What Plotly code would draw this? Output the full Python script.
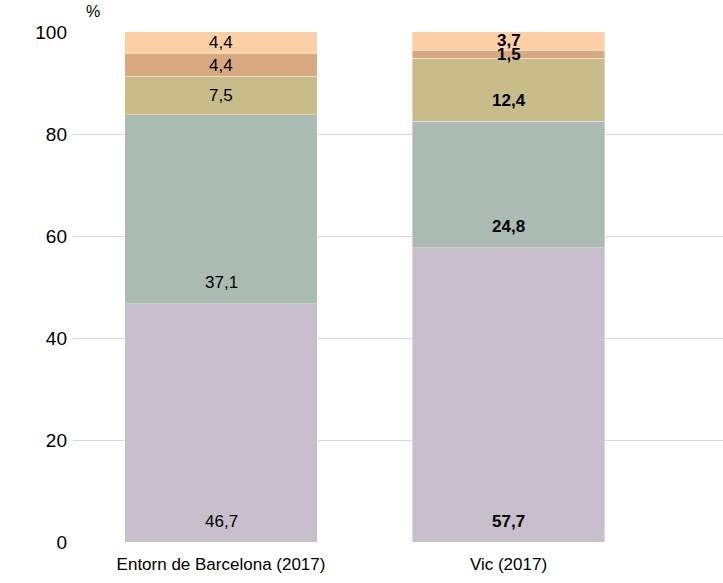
import plotly.graph_objects as go

categories = ["Entorn de Barcelona (2017)", "Vic (2017)"]
series_names = ["S1", "S2", "S3", "S4", "S5"]
series_values = [
    [46.7, 57.7],
    [37.1, 24.8],
    [7.5, 12.4],
    [4.4, 1.5],
    [4.4, 3.7],
]
colors = ["#C7BFCC", "#ABBAB3", "#C8BD8A", "#D8A981", "#FDCFA6"]
bold_cat = [False, True]
y_ticks = [0, 20, 40, 60, 80, 100]

x_pos = list(range(len(categories)))
FONT = "Liberation Sans, Arial, sans-serif"

fig = go.Figure()
for name, vals, col in zip(series_names, series_values, colors):
    fig.add_trace(go.Bar(
        x=x_pos, y=vals, name=name, width=0.668,
        marker=dict(color=col, line=dict(color="rgba(255,255,255,0.6)", width=0.6)),
        hoverinfo="skip", showlegend=False,
    ))

# labels
base = [0.0] * len(categories)
for vals in series_values:
    for i, v in enumerate(vals):
        lab = f"{v:.1f}".replace(".", ",")
        y = min(base[i] + 4.1, base[i] + v / 2)
        txt = f"<b>{lab}</b>" if bold_cat[i] else lab
        fig.add_annotation(x=x_pos[i], y=y, text=txt, showarrow=False,
                           font=dict(family=FONT, size=17, color="#000000"),
                           xanchor="center", yanchor="middle")
        base[i] += v

fig.add_annotation(xref="paper", yref="paper", x=0.031, y=1.041, text="%",
                   showarrow=False, xanchor="center", yanchor="middle",
                   font=dict(family=FONT, size=16, color="#000000"))

fig.update_layout(
    barmode="stack",
    width=723, height=583,
    margin=dict(l=73, r=0, t=32, b=41),
    paper_bgcolor="white", plot_bgcolor="white",
    font=dict(family=FONT, size=17, color="#000000"),
    xaxis=dict(tickmode="array", tickvals=x_pos, ticktext=categories,
               range=[-0.5148, 1.746], showgrid=False, zeroline=False,
               showline=False, ticks="", ticklabelstandoff=10,
               tickfont=dict(size=17)),
    yaxis=dict(range=[0, 100], tickvals=y_ticks, showgrid=True,
               gridcolor="#D9D9D9", gridwidth=1, zeroline=False,
               showline=False, ticks="", ticklen=0, ticklabelstandoff=5,
               tickfont=dict(size=19)),
)

fig.write_html("out.html", post_script="document.body.style.margin='0';",
               config={"displayModeBar": False})
